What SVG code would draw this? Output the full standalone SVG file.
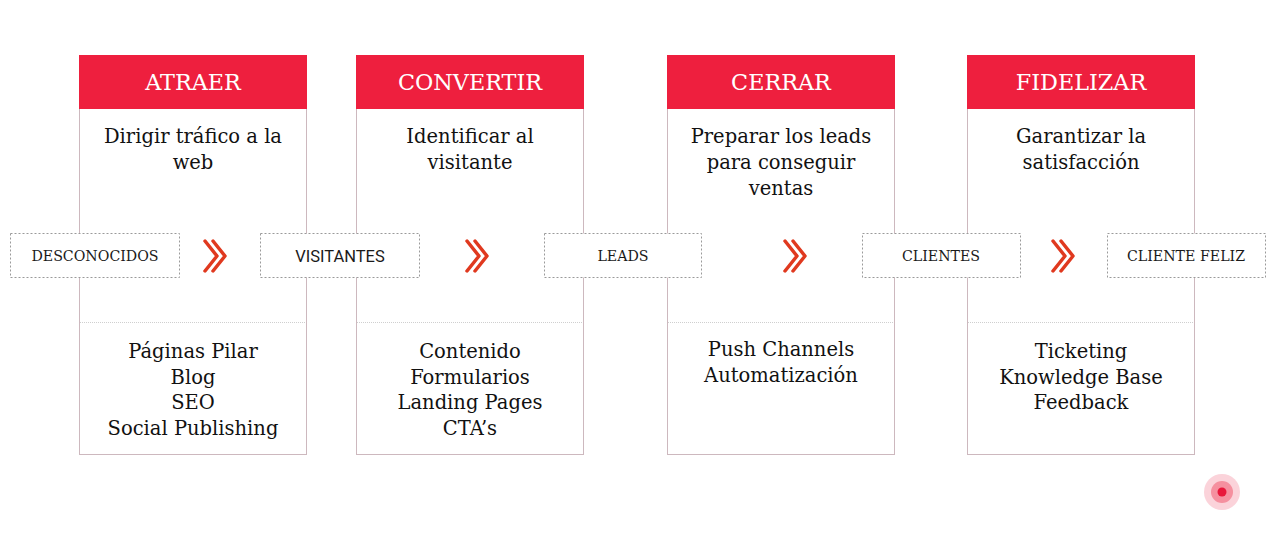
<svg xmlns="http://www.w3.org/2000/svg" width="1280" height="541" viewBox="0 0 1280 541">
<defs>
<style>
.hdr{fill:#ee1f3e}
.body{fill:#fff;stroke:#cdb8be;stroke-width:1}
.div{stroke:#cfcfcf;stroke-width:1;stroke-dasharray:1 1}
.title{font-family:"DejaVu Serif","Liberation Serif",serif;font-size:22.3px;fill:#fff;text-anchor:middle}
.txt{font-family:"DejaVu Serif","Liberation Serif",serif;font-size:19.5px;fill:#111;text-anchor:middle}
.stage{fill:#fff;stroke:#9a9a9a;stroke-width:1;stroke-dasharray:2 2}
.slbl{font-family:"DejaVu Serif","Liberation Serif",serif;font-size:14.2px;fill:#1a1a1a;text-anchor:middle}
.sans{font-family:Roboto,"Liberation Sans",sans-serif;font-size:16.5px}
.chev{fill:none;stroke:#e0391f;stroke-width:3.5;stroke-linecap:round;stroke-linejoin:round}
</style>
<g id="chevron"><path class="chev" d="M-12,-15 L0,0 L-12,15 M-4,-15 L8,0 L-4,15"/></g>
</defs>
<rect width="1280" height="541" fill="#fff"/>

<g id="col-atraer">
<rect class="body" x="79.5" y="108.5" width="227" height="346"/>
<line class="div" x1="80" y1="322.5" x2="306" y2="322.5"/>
<rect class="hdr" x="79" y="55" width="228" height="54"/>
<text class="title" x="193" y="90">ATRAER</text>
<text class="txt" x="193" y="143">Dirigir tráfico a la</text>
<text class="txt" x="193" y="169">web</text>
<text class="txt" x="193" y="358">Páginas Pilar</text>
<text class="txt" x="193" y="384">Blog</text>
<text class="txt" x="193" y="409">SEO</text>
<text class="txt" x="193" y="435">Social Publishing</text>
</g>

<g id="col-convertir">
<rect class="body" x="356.5" y="108.5" width="227" height="346"/>
<line class="div" x1="357" y1="322.5" x2="583" y2="322.5"/>
<rect class="hdr" x="356" y="55" width="228" height="54"/>
<text class="title" x="470" y="90">CONVERTIR</text>
<text class="txt" x="470" y="143">Identificar al</text>
<text class="txt" x="470" y="169">visitante</text>
<text class="txt" x="470" y="358">Contenido</text>
<text class="txt" x="470" y="384">Formularios</text>
<text class="txt" x="470" y="409">Landing Pages</text>
<text class="txt" x="470" y="435">CTA’s</text>
</g>

<g id="col-cerrar">
<rect class="body" x="667.5" y="108.5" width="227" height="346"/>
<line class="div" x1="668" y1="322.5" x2="894" y2="322.5"/>
<rect class="hdr" x="667" y="55" width="228" height="54"/>
<text class="title" x="781" y="90">CERRAR</text>
<text class="txt" x="781" y="143">Preparar los leads</text>
<text class="txt" x="781" y="169">para conseguir</text>
<text class="txt" x="781" y="195">ventas</text>
<text class="txt" x="781" y="356">Push Channels</text>
<text class="txt" x="781" y="382">Automatización</text>
</g>

<g id="col-fidelizar">
<rect class="body" x="967.5" y="108.5" width="227" height="346"/>
<line class="div" x1="968" y1="322.5" x2="1194" y2="322.5"/>
<rect class="hdr" x="967" y="55" width="228" height="54"/>
<text class="title" x="1081" y="90">FIDELIZAR</text>
<text class="txt" x="1081" y="143">Garantizar la</text>
<text class="txt" x="1081" y="169">satisfacción</text>
<text class="txt" x="1081" y="358">Ticketing</text>
<text class="txt" x="1081" y="384">Knowledge Base</text>
<text class="txt" x="1081" y="409">Feedback</text>
</g>

<g id="stage-desconocidos">
<rect class="stage" x="10.5" y="233.5" width="169" height="44"/>
<text class="slbl" x="95" y="261">DESCONOCIDOS</text>
</g>
<g id="stage-visitantes">
<rect class="stage" x="260.5" y="233.5" width="159" height="44"/>
<text class="slbl sans" x="340" y="261.5">VISITANTES</text>
</g>
<g id="stage-leads">
<rect class="stage" x="544.5" y="233.5" width="157" height="44"/>
<text class="slbl" x="623" y="261">LEADS</text>
</g>
<g id="stage-clientes">
<rect class="stage" x="862.5" y="233.5" width="158" height="44"/>
<text class="slbl" x="941" y="261">CLIENTES</text>
</g>
<g id="stage-cliente-feliz">
<rect class="stage" x="1107.5" y="233.5" width="158" height="44"/>
<text class="slbl" x="1186" y="261">CLIENTE FELIZ</text>
</g>

<g id="connectors">
<use href="#chevron" x="217" y="256"/>
<use href="#chevron" x="479" y="256"/>
<use href="#chevron" x="797" y="256"/>
<use href="#chevron" x="1065" y="256"/>
</g>

<g id="logo">
<circle cx="1222" cy="492" r="18" fill="#fbd3da"/>
<circle cx="1222" cy="492" r="11" fill="#f5909f"/>
<circle cx="1222" cy="492" r="4.5" fill="#e8173a"/>
</g>
</svg>
